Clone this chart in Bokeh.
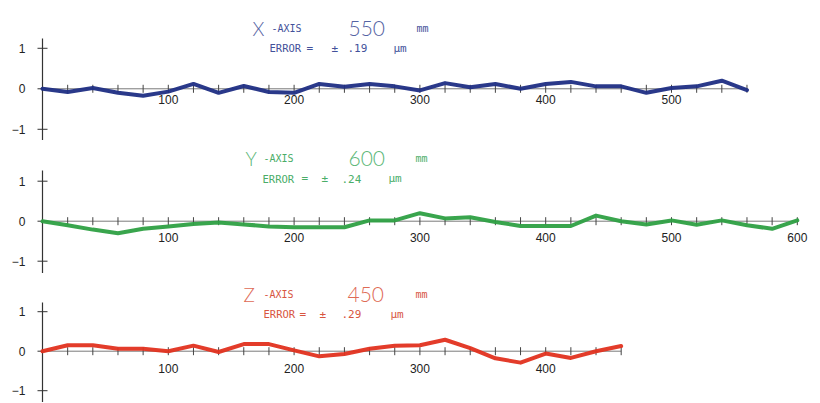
from bokeh.plotting import figure
from bokeh.models import Range1d, Label
from bokeh.layouts import column
from bokeh.embed import file_html
from bokeh.resources import INLINE
from bokeh.core.properties import value

# ---------------- data ----------------
x_pos = [0, 20, 40, 60, 80, 100, 120, 140, 160, 180, 200, 220, 240, 260, 280,
         300, 320, 340, 360, 380, 400, 420, 440, 460, 480, 500, 520, 540, 560]
x_err = [0.0, -0.08, 0.02, -0.10, -0.17, -0.07, 0.12, -0.10, 0.07, -0.08, -0.10, 0.12, 0.05, 0.12, 0.06,
         -0.04, 0.14, 0.04, 0.12, 0.0, 0.12, 0.17, 0.06, 0.06, -0.10, 0.02, 0.06, 0.20, -0.03]

y_pos = [0, 20, 40, 60, 80, 100, 120, 140, 160, 180, 200, 220, 240, 260, 280, 300,
         320, 340, 360, 380, 400, 420, 440, 460, 480, 500, 520, 540, 560, 580, 600]
y_err = [0.0, -0.10, -0.21, -0.30, -0.19, -0.13, -0.07, -0.03, -0.08, -0.13, -0.15, -0.15, -0.15, 0.02, 0.02, 0.20,
         0.07, 0.10, -0.02, -0.12, -0.12, -0.12, 0.14, 0.0, -0.08, 0.02, -0.09, 0.02, -0.10, -0.19, 0.02]

z_pos = [0, 20, 40, 60, 80, 100, 120, 140, 160, 180, 200, 220,
         240, 260, 280, 300, 320, 340, 360, 380, 400, 420, 440, 460]
z_err = [0.0, 0.15, 0.15, 0.06, 0.06, 0.0, 0.14, -0.02, 0.18, 0.18, 0.02, -0.13,
         -0.07, 0.06, 0.14, 0.15, 0.29, 0.08, -0.18, -0.29, -0.06, -0.17, 0.0, 0.13]

x_tick_labels = [100, 200, 300, 400, 500, 600]
y_tick_values = [-1, 0, 1]
y_tick_labels = ["\u22121", "0", "1"]

axis_names = ["X", "Y", "Z"]
axis_lengths = ["550", "600", "450"]
axis_errors = [".19", ".24", ".29"]

# ---------------- styling / layout ----------------
line_colors = ["#1f2e84", "#2ea043", "#e2321f"]
text_colors = ["#42519a", "#4aad68", "#d8563f"]
big_colors = ["#5563a3", "#5cb778", "#de6a55"]
LIGHT_FONT = "Lato Light, Roboto Light, Open Sans Light, DejaVu Sans ExtraLight, DejaVu Sans"

FIG_W = 812
X0_PX = 42.0      # page x of data x = 0
PPU_X = 1.258     # pixels per mm on the x axis
X_START = -X0_PX / PPU_X
X_END = X_START + FIG_W / PPU_X

def px2x(px):
    return (px - X0_PX) / PPU_X

panels = [
    dict(pos=x_pos, err=x_err, height=140, yr=(-1.277, 88.3 / 40.5), axis_top=1.242,
         zero=88.3, ppu=40.5, lab_off=11, big_base=28, err_base=48,
         big_x=[252, 271, 348, 416], err_x=[269, 306, 331, 347, 393]),
    dict(pos=y_pos, err=y_err, height=133, yr=(-1.3075, 80.7 / 40.0), axis_top=1.2675,
         zero=220.7, ppu=40.0, lab_off=16, big_base=158, err_base=178,
         big_x=[245, 263, 348, 415], err_x=[262, 301, 321, 341, 388]),
    dict(pos=z_pos, err=z_err, height=129, yr=(-1.299, 77.7 / 39.5), axis_top=1.233,
         zero=350.7, ppu=39.5, lab_off=17, big_base=294, err_base=314,
         big_x=[243, 263, 347, 415], err_x=[263, 299, 319, 341, 390]),
]

figs = []
for i, pn in enumerate(panels):
    p = figure(width=FIG_W, height=pn["height"], output_backend="svg", toolbar_location=None,
               x_range=Range1d(X_START, X_END), y_range=Range1d(*pn["yr"]),
               x_axis_location=None, y_axis_location=None,
               min_border_left=0, min_border_right=0, min_border_top=0,
               min_border_bottom=0)
    p.outline_line_color = None
    p.grid.visible = False
    p.background_fill_color = "white"
    p.border_fill_color = "white"

    pos, err = pn["pos"], pn["err"]
    ymin = pn["yr"][0]

    # vertical axis line, ticks and labels
    p.segment(x0=[pos[0]], y0=[ymin], x1=[pos[0]], y1=[pn["axis_top"]],
              line_color="#333333", line_width=1.2)
    p.scatter(x=[pos[0]] * len(y_tick_values), y=y_tick_values, marker="dash",
              size=10, line_color="#333333", line_width=1)
    p.text(x=[pos[0]] * len(y_tick_values), y=y_tick_values, text=y_tick_labels,
           text_align="right", text_baseline="middle", x_offset=-17,
           text_font=value("Liberation Sans"), text_font_size="12px", text_color="#222222")

    # horizontal axis line at 0
    p.line(x=[pos[0], pos[-1]], y=[0, 0], line_color="#7a7a7a", line_width=1)
    # minor ticks every station
    p.scatter(x=pos[1:], y=[0] * (len(pos) - 1), marker="dash", angle=1.5708,
              size=8, line_color="#444444", line_width=1)
    # tick labels
    labs = [v for v in x_tick_labels if v <= pos[-1]]
    p.text(x=labs, y=[0] * len(labs), text=[str(v) for v in labs],
           text_align="center", text_baseline="middle", y_offset=pn["lab_off"],
           text_font=value("Liberation Sans"), text_font_size="12px", text_color="#222222")
    # data line
    p.line(x=pos, y=err, line_color=line_colors[i], line_width=4, line_join="round",
           line_cap="round", line_alpha=0.95)

    # titles
    by = (pn["zero"] - pn["big_base"]) / pn["ppu"]
    ey = (pn["zero"] - pn["err_base"]) / pn["ppu"]
    big = [(axis_names[i], LIGHT_FONT, "19px", big_colors[i]),
           ("-AXIS", "DejaVu Sans Mono", "10px", text_colors[i]),
           (axis_lengths[i], LIGHT_FONT, "21px", big_colors[i]),
           ("mm", "DejaVu Sans Mono", "10px", text_colors[i])]
    for (txt, fnt, fs, c), xp in zip(big, pn["big_x"]):
        p.add_layout(Label(x=px2x(xp), y=by, text=txt, text_font=fnt, text_font_size=fs,
                           text_color=c, text_baseline="alphabetic", text_align="left"))
    small = [("ERROR", "10.5px"), ("=", "11px"), ("\u00b1", "11px"),
             (axis_errors[i], "11px"), ("\u00b5m", "11px")]
    small[3] = (axis_errors[i], "11px")
    for (txt, fs), xp in zip(small, pn["err_x"]):
        p.add_layout(Label(x=px2x(xp), y=ey, text=txt, text_font="DejaVu Sans Mono",
                           text_font_size=fs, text_color=text_colors[i],
                           text_baseline="alphabetic", text_align="left"))
    figs.append(p)

layout = column(*figs, spacing=0)
open("out.html", "w").write(file_html(layout, INLINE))
